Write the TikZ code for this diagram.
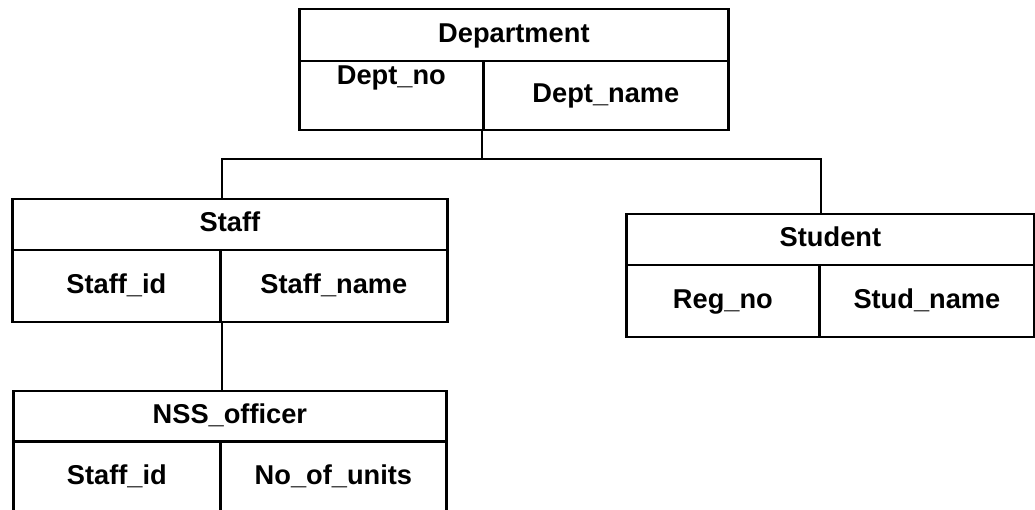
\documentclass[tikz,border=0pt]{standalone}
\usepackage{fontspec}
\setmainfont{Liberation Sans}

\tikzset{
  cell/.style={draw, line width=1.6pt, inner sep=0pt, text height=0.40cm, text depth=0.10cm},
  link/.style={line width=1.2pt}
}

\begin{document}
\begin{tikzpicture}[font=\fontsize{15.5}{18}\selectfont\bfseries]

	\useasboundingbox (0,0) rectangle (20.70,10.20);

	% Department
	\draw (5.96, 9.50) node (dept) [right, cell, minimum height=1.04cm, minimum width=8.58cm] {Department};
	\draw (5.96, 8.29) node (deptno) [right, cell, minimum height=1.38cm, minimum width=3.68cm,
		label={[anchor=north, inner sep=0.12cm]north:Dept\_no}] {};
	\draw (9.64, 8.29) node (deptname) [right, cell, minimum height=1.38cm, minimum width=4.90cm] {Dept\_name};

	% Staff
	\draw (0.22, 5.71) node (staff) [right, cell, minimum height=1.02cm, minimum width=8.70cm] {Staff};
	\draw (0.22, 4.48) node (staffid) [right, cell, minimum height=1.44cm, minimum width=4.16cm] {Staff\_id};
	\draw (4.38, 4.48) node (staffname) [right, cell, minimum height=1.44cm, minimum width=4.54cm] {Staff\_name};

	% Student
	\draw (12.50, 5.41) node (student) [right, cell, minimum height=1.02cm, minimum width=8.16cm] {Student};
	\draw (12.50, 4.18) node (regno) [right, cell, minimum height=1.44cm, minimum width=3.86cm] {Reg\_no};
	\draw (16.36, 4.18) node (studname) [right, cell, minimum height=1.44cm, minimum width=4.30cm] {Stud\_name};

	% NSS_officer
	\draw (0.24, 1.87) node (nss) [right, cell, minimum height=1.02cm, minimum width=8.66cm] {NSS\_officer};
	\draw (0.24, 0.66) node (nssid) [right, cell, minimum height=1.44cm, minimum width=4.14cm] {Staff\_id};
	\draw (4.38, 0.66) node (nssunits) [right, cell, minimum height=1.44cm, minimum width=4.52cm] {No\_of\_units};

	% links
	\draw [link] (deptname.south west) -- ++(0,-0.56) coordinate (bus);
	\draw [link] (staff.north -| staffid.east) |- (bus) -| (student.north -| regno.east);
	\draw [link] (staffid.south east) -- (staffid.south east |- nss.north);

\end{tikzpicture}
\end{document}
